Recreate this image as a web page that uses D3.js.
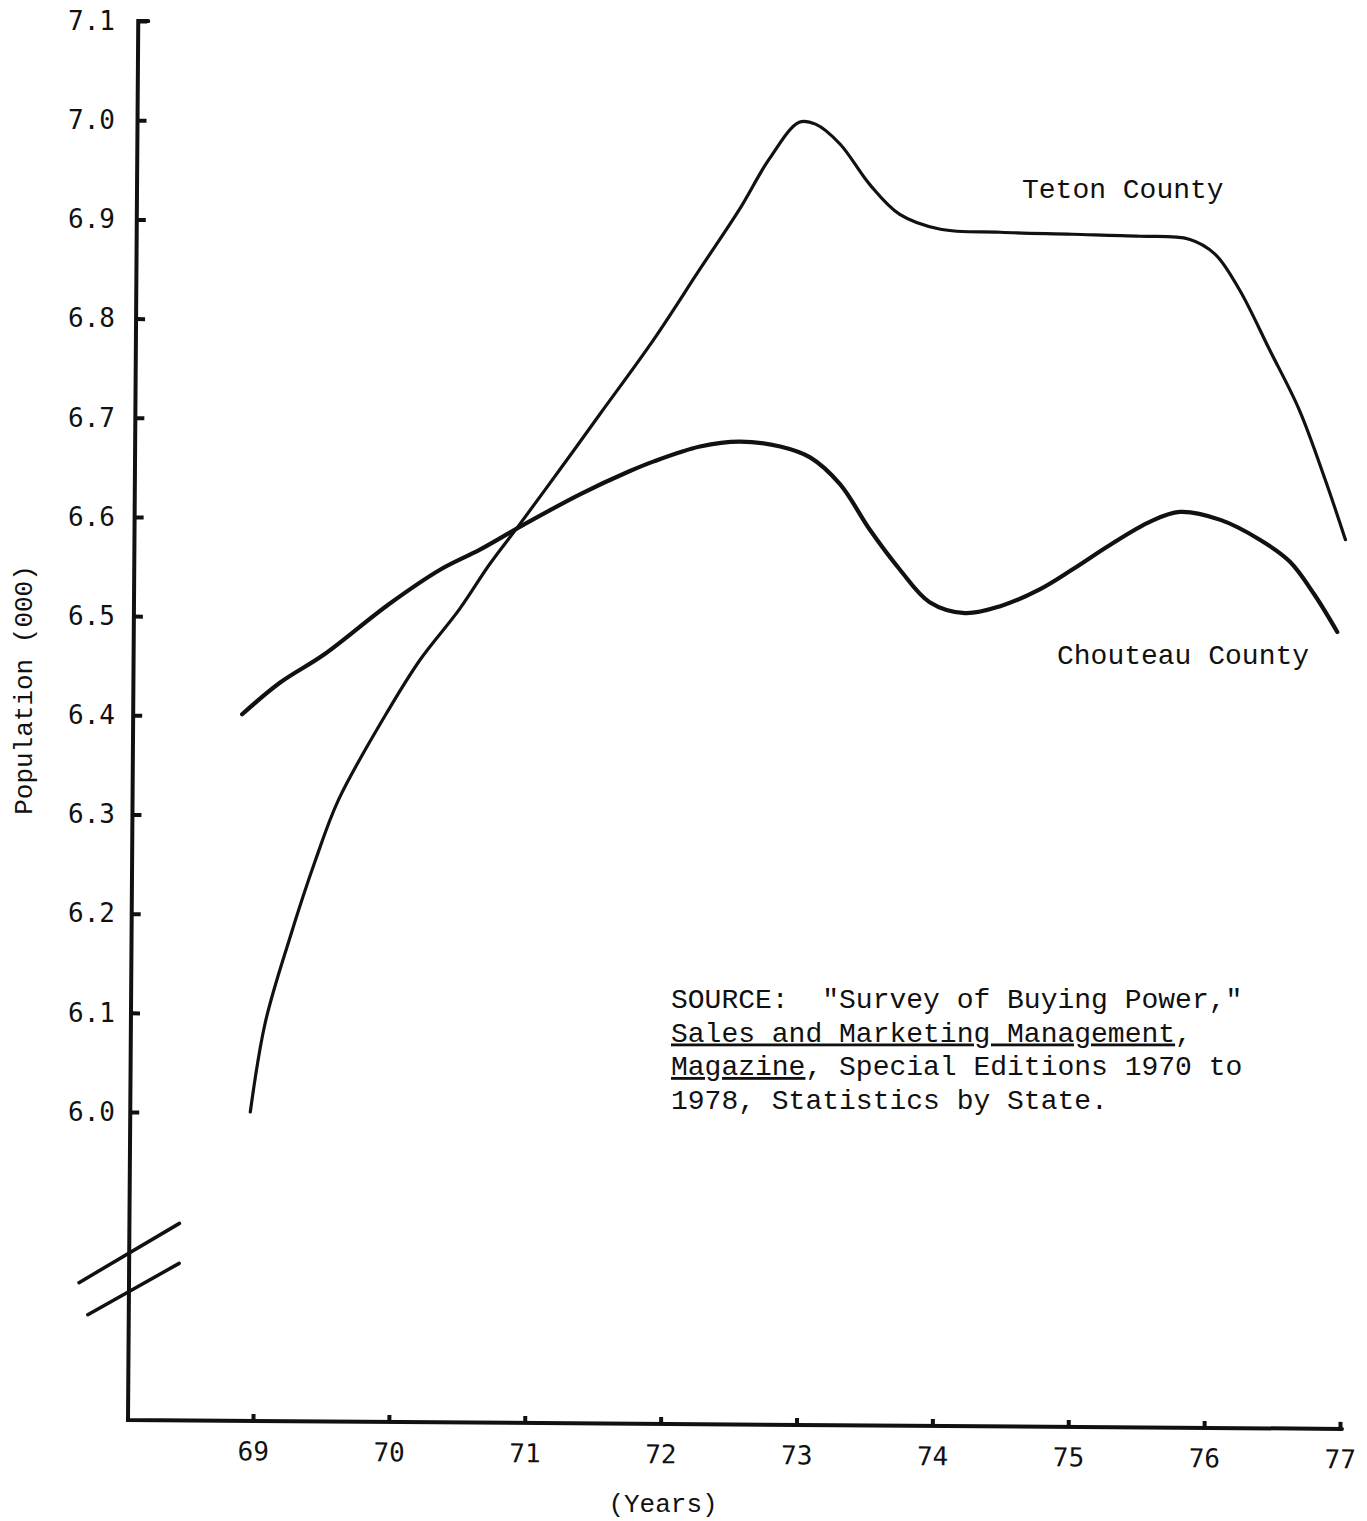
<!DOCTYPE html>
<html lang="en">
<head>
<meta charset="UTF-8">
<title>Population</title>
<script src="https://cdn.jsdelivr.net/npm/d3@7"></script>
<style>
    body { margin: 0; background: #fff; }
    .tick text { font-family: "DejaVu Sans Mono", monospace; font-size: 26px; fill: #111; }
    .tick line { stroke: #111; stroke-width: 4; }
    .axis-line { stroke: #111; stroke-width: 4; fill: none; stroke-linecap: round; }
    .note { font-family: "Liberation Mono", "Courier New", monospace; fill: #111; white-space: pre; }
    .teton { fill: none; stroke: #111; stroke-width: 3.2; stroke-linecap: round; }
    .chouteau { fill: none; stroke: #111; stroke-width: 4.2; stroke-linecap: round; }
</style>
</head>
<body>
<div id="root"></div>
<script>
    // years on the x axis
    let years = [69, 70, 71, 72, 73, 74, 75, 76, 77]
    // population ticks (000)
    let popTicks = [6.0, 6.1, 6.2, 6.3, 6.4, 6.5, 6.6, 6.7, 6.8, 6.9, 7.0, 7.1]

    // points: [year, population (000)]
    let teton = [
        [68.98, 6.000], [69.09, 6.090], [69.27, 6.175], [69.46, 6.254], [69.63, 6.315],
        [70.00, 6.406], [70.23, 6.456], [70.52, 6.507], [70.74, 6.552], [70.96, 6.592],
        [71.26, 6.648], [71.55, 6.703], [71.95, 6.779], [72.29, 6.850], [72.58, 6.910],
        [72.80, 6.961], [73.02, 6.998], [73.14, 6.996], [73.32, 6.976], [73.54, 6.935],
        [73.76, 6.905], [74.06, 6.890], [74.50, 6.887], [75.03, 6.885], [75.53, 6.883],
        [75.89, 6.880], [76.08, 6.865], [76.26, 6.829], [76.48, 6.769], [76.70, 6.708],
        [76.89, 6.638], [77.04, 6.577]
    ]
    let chouteau = [
        [68.92, 6.401], [69.20, 6.433], [69.52, 6.461], [70.00, 6.512], [70.38, 6.547],
        [70.67, 6.567], [70.99, 6.592], [71.41, 6.623], [71.77, 6.646], [71.95, 6.656],
        [72.29, 6.671], [72.58, 6.676], [72.88, 6.671], [73.10, 6.660], [73.32, 6.633],
        [73.54, 6.587], [73.76, 6.547], [73.98, 6.514], [74.24, 6.503], [74.50, 6.510],
        [74.79, 6.527], [75.03, 6.547], [75.31, 6.572], [75.60, 6.595], [75.82, 6.605],
        [76.12, 6.597], [76.41, 6.577], [76.63, 6.555], [76.81, 6.522], [76.98, 6.484]
    ]

    let width = 1367
    let height = 1521
    let originX = 128      // corner of the two axes
    let originY = 1420
    let tilt = 0.42        // the hand drawn axes lean a little

    let svg = d3.select("#root").append("svg")
        .attr("width", width).attr("height", height)

    let xScale = d3.scaleLinear().domain([69, 77]).range([253, 1340])
    let yScale = d3.scaleLinear().domain([6.0, 7.1]).range([1112, 21])

    let axes = svg.append("g").attr("transform", `rotate(${tilt},${originX},${originY})`)

    // y axis: ticks point inward (labels drawn separately, they stay in a straight column)
    let yAxis = d3.axisLeft(yScale).tickValues(popTicks).tickFormat("")
        .tickSize(-9)
    axes.append("g").attr("class", "yAxis")
        .attr("transform", `translate(${originX},0)`)
        .call(yAxis)
        .call(g => g.select(".domain").remove())

    let yLabels = d3.axisLeft(yScale).tickValues(popTicks).tickFormat(d3.format(".1f"))
        .tickSize(0).tickPadding(0)
    svg.append("g").attr("class", "yLabels")
        .attr("transform", "translate(115,0)")
        .call(yLabels)
        .call(g => g.select(".domain").remove())

    // x axis: small upward ticks
    let xAxis = d3.axisBottom(xScale).tickValues(years).tickFormat(d => d)
        .tickSize(-7).tickPadding(21)
    axes.append("g").attr("class", "xAxis")
        .attr("transform", `translate(0,${originY})`)
        .call(xAxis)
        .call(g => g.select(".domain").remove())

    axes.append("path").attr("class", "axis-line")
        .attr("d", `M${originX + 10},${yScale(7.1)}H${originX}V${originY}H${xScale(77) + 2}`)

    // break marks on the y axis
    axes.append("line").attr("class", "axis-line").style("stroke-width", 3.5)
        .attr("x1", originX - 50).attr("y1", originY - 137)
        .attr("x2", originX + 50).attr("y2", originY - 197)
    axes.append("line").attr("class", "axis-line").style("stroke-width", 3.5)
        .attr("x1", originX - 41).attr("y1", originY - 105)
        .attr("x2", originX + 50).attr("y2", originY - 157)

    // the two curves
    let line = d3.line()
        .x(d => xScale(d[0]))
        .y(d => yScale(d[1]))
        .curve(d3.curveCatmullRom.alpha(0.5))

    svg.append("path").datum(teton).attr("class", "teton").attr("d", line)
    svg.append("path").datum(chouteau).attr("class", "chouteau").attr("d", line)

    // labels
    svg.append("text").attr("class", "note").attr("font-size", 28)
        .attr("x", 1022).attr("y", 198).text("Teton County")
    svg.append("text").attr("class", "note").attr("font-size", 28)
        .attr("x", 1057).attr("y", 664).text("Chouteau County")

    svg.append("text").attr("class", "note").attr("font-size", 26)
        .attr("text-anchor", "middle")
        .attr("transform", "translate(32,690) rotate(-90)")
        .text("Population (000)")

    svg.append("text").attr("class", "note").attr("font-size", 26)
        .attr("text-anchor", "middle")
        .attr("x", 663).attr("y", 1512).text("(Years)")

    // source note
    let src = svg.append("text").attr("class", "note").attr("font-size", 28)
        .attr("x", 671).attr("y", 1008)
    src.append("tspan").attr("x", 671).attr("dy", 0).text('SOURCE:  "Survey of Buying Power,"')
    src.append("tspan").attr("x", 671).attr("dy", 33.5)
        .attr("text-decoration", "underline").text("Sales and Marketing Management")
    src.append("tspan").text(",")
    src.append("tspan").attr("x", 671).attr("dy", 33.5)
        .attr("text-decoration", "underline").text("Magazine")
    src.append("tspan").text(", Special Editions 1970 to")
    src.append("tspan").attr("x", 671).attr("dy", 33.5).text("1978, Statistics by State.")
</script>
</body>
</html>
